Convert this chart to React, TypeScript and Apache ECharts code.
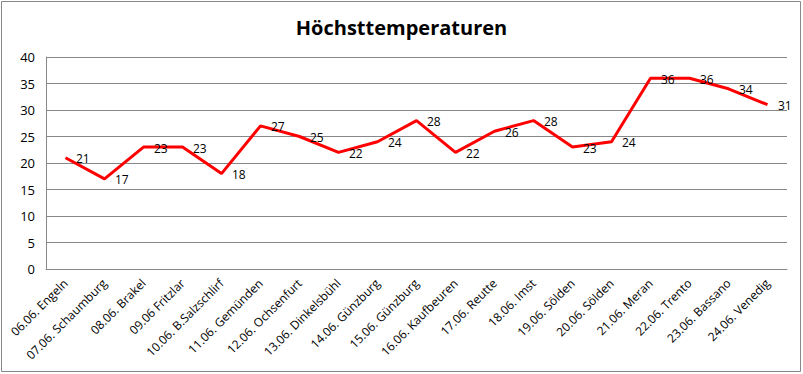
import React, { useEffect, useRef } from "react";
import * as echarts from "echarts";

const categories = [
  "06.06. Engeln",
  "07.06. Schaumburg",
  "08.06. Brakel",
  "09.06 Fritzlar",
  "10.06. B.Salzschlirf",
  "11.06. Gemünden",
  "12.06. Ochsenfurt",
  "13.06. Dinkelsbühl",
  "14.06. Günzburg",
  "15.06. Günzburg",
  "16.06. Kaufbeuren",
  "17.06. Reutte",
  "18.06. Imst",
  "19.06. Sölden",
  "20.06. Sölden",
  "21.06. Meran",
  "22.06. Trento",
  "23.06. Bassano",
  "24.06. Venedig",
];
const temperatures = [21, 17, 23, 23, 18, 27, 25, 22, 24, 28, 22, 26, 28, 23, 24, 36, 36, 34, 31];
const title = "Höchsttemperaturen";

export default function App() {
  const ref = useRef<HTMLDivElement>(null);
  useEffect(() => {
    if (!ref.current) return;
    const chart = echarts.init(ref.current, undefined, { renderer: "svg" });
    const font = "'Open Sans', 'Noto Sans', sans-serif";
    chart.setOption({
      animation: false,
      backgroundColor: "#ffffff",
      title: {
        text: title,
        left: "center",
        top: 12,
        textStyle: { fontSize: 20, fontWeight: "bold", color: "#000", fontFamily: font },
      },
      graphic: [
        {
          type: "rect",
          shape: { x: 1.5, y: 1.5, width: 799, height: 370 },
          style: { fill: "none", stroke: "#888", lineWidth: 1 },
          silent: true,
        },
      ],
      grid: { left: 46, right: 16, top: 57, bottom: 105 },
      xAxis: {
        type: "category",
        data: categories,
        boundaryGap: true,
        axisLine: { show: true, lineStyle: { color: "#888" } },
        axisTick: { show: false },
        axisLabel: {
          rotate: 45,
          interval: 0,
          fontSize: 12,
          color: "#000",
          fontFamily: font,
          margin: 12,
        },
      },
      yAxis: {
        type: "value",
        min: 0,
        max: 40,
        interval: 5,
        axisLine: { show: true, lineStyle: { color: "#888" } },
        axisTick: { show: false },
        splitLine: { lineStyle: { color: "#888" } },
        axisLabel: { fontSize: 13, color: "#000", fontFamily: font, margin: 11 },
      },
      series: [
        {
          type: "line",
          data: temperatures,
          showSymbol: true,
          symbol: "circle",
          symbolSize: 1,
          itemStyle: { color: "rgba(255,0,0,0)" },
          lineStyle: { color: "#ff0000", width: 3 },
          label: {
            show: true,
            position: "right",
            distance: 10,
            offset: [0, 1],
            fontSize: 12,
            color: "#000",
            fontFamily: font,
          },
        },
      ],
    });
    return () => chart.dispose();
  }, []);
  return <div ref={ref} style={{ position: "fixed", left: 0, top: 0, width: 803, height: 374 }} />;
}
